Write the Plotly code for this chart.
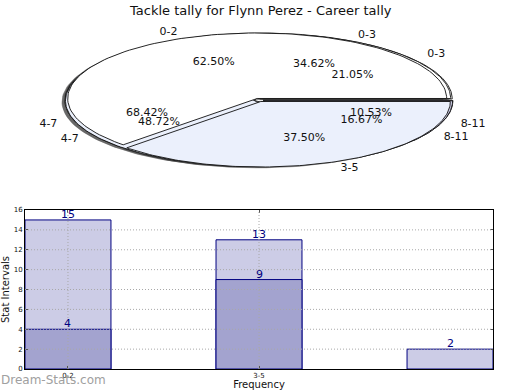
import numpy as np
import plotly.graph_objects as go

title = "Tackle tally for Flynn Perez - Career tally"

pie_a_labels = ["0-2", "3-5"]
pie_a_values = [15, 9]
pie_b_labels = ["0-3", "4-7", "8-11"]
pie_b_values = [27, 38, 13]
pie_c_labels = ["0-3", "4-7", "8-11"]
pie_c_values = [4, 13, 2]

bar_ticks = ["0-2", "3-5", ""]
bar_light = [15, 13, 2]
bar_dark = [4, 9]
y_ticks = [0, 2, 4, 6, 8, 10, 12, 14, 16]

slice_colors = ["#FFFFFF", "#EBF0FC", "#CCCCE6"]
FONT = "DejaVu Sans"

# pie geometry (pixel space of the figure)
CX, CY, RA, RB = 259.0, 100.0, 189.5, 65.5
EXPLODE = 0.025
SHADOW_DX, SHADOW_DY = -3.5, 1.3

fig = go.Figure()


def wedges(values):
    total = float(sum(values))
    start = 0.0
    out = []
    for v in values:
        end = start + v / total * 360.0
        mid = np.radians((start + end) / 2.0)
        ox = CX + EXPLODE * RA * np.cos(mid)
        oy = CY - EXPLODE * RB * np.sin(mid)
        out.append((start, end, mid, ox, oy, v / total))
        start = end
    return out


def wedge_poly(ox, oy, t1, t2, n=120):
    t = np.radians(np.linspace(t1, t2, n))
    xs = np.concatenate([[ox], ox + RA * np.cos(t), [ox]])
    ys = np.concatenate([[oy], oy - RB * np.sin(t), [oy]])
    return xs, ys


def add_shadows(values):
    for (t1, t2, mid, ox, oy, f) in wedges(values):
        xs, ys = wedge_poly(ox + SHADOW_DX, oy + SHADOW_DY, t1, t2)
        fig.add_trace(go.Scatter(x=xs, y=ys, mode="lines", fill="toself",
                                 fillcolor="rgba(20,20,20,0.4)", line=dict(width=0),
                                 xaxis="x2", yaxis="y2", hoverinfo="skip", showlegend=False))


def add_pie(values):
    for i, (t1, t2, mid, ox, oy, f) in enumerate(wedges(values)):
        xs, ys = wedge_poly(ox, oy, t1, t2)
        fig.add_trace(go.Scatter(x=xs, y=ys, mode="lines", fill="toself",
                                 fillcolor=slice_colors[i % len(slice_colors)],
                                 line=dict(color="#111111", width=0.9),
                                 xaxis="x2", yaxis="y2", hoverinfo="skip", showlegend=False))


def add_pie_text(labels, values):
    for lab, (t1, t2, mid, ox, oy, f) in zip(labels, wedges(values)):
        lx = ox + 1.1 * RA * np.cos(mid)
        ly = oy - 1.1 * RB * np.sin(mid)
        pos = "middle right" if np.cos(mid) >= 0 else "middle left"
        fig.add_trace(go.Scatter(x=[lx], y=[ly], mode="text", text=[lab], textposition=pos,
                                 textfont=dict(family=FONT, size=11, color="#111111"),
                                 xaxis="x2", yaxis="y2", hoverinfo="skip", showlegend=False))
        px = ox + 0.6 * RA * np.cos(mid)
        py = oy - 0.6 * RB * np.sin(mid)
        fig.add_trace(go.Scatter(x=[px], y=[py], mode="text", text=["%.2f%%" % (f * 100)],
                                 textposition="middle center",
                                 textfont=dict(family=FONT, size=11, color="#111111"),
                                 xaxis="x2", yaxis="y2", hoverinfo="skip", showlegend=False))


for vals in (pie_c_values, pie_b_values, pie_a_values):
    add_shadows(vals)
for vals in (pie_c_values, pie_b_values, pie_a_values):
    add_pie(vals)
add_pie_text(pie_a_labels, pie_a_values)
add_pie_text(pie_b_labels, pie_b_values)
add_pie_text(pie_c_labels, pie_c_values)

# bar chart
xpos = list(range(len(bar_ticks)))
fig.add_trace(go.Bar(x=xpos[:len(bar_light)], y=bar_light, width=0.45,
                     marker=dict(color="#CCCCE6", line=dict(color="#000080", width=1)),
                     hoverinfo="skip", showlegend=False))
fig.add_trace(go.Bar(x=xpos[:len(bar_dark)], y=bar_dark, width=0.45,
                     marker=dict(color="#A3A3CF", line=dict(color="#000080", width=1)),
                     hoverinfo="skip", showlegend=False))

annotations = []
for series in (bar_light, bar_dark):
    for xi, v in zip(xpos, series):
        annotations.append(dict(x=xi, y=v, xref="x", yref="y", text=str(v), showarrow=False,
                                xanchor="center", yanchor="bottom", yshift=-3,
                                font=dict(family=FONT, size=11, color="#000080")))
annotations.append(dict(text=title, xref="paper", yref="paper", x=0.5, y=1 - 10 / 390,
                        xanchor="center", yanchor="middle", showarrow=False,
                        font=dict(family=FONT, size=13, color="#111111")))
annotations.append(dict(text="Dream-Stats.com", xref="paper", yref="paper", x=-0.002,
                        y=10 / 390, xanchor="left", yanchor="middle", showarrow=False,
                        font=dict(family="DejaVu Sans", size=12, color="#A0A0A0")))

# dotted grid drawn above the bars, as in the reference
tick_x = [x for x, t in zip(xpos, bar_ticks) if t]
tick_t = [t for t in bar_ticks if t]
shapes = []
for yv in y_ticks[1:-1]:
    shapes.append(dict(type="line", xref="x domain", yref="y", x0=0, x1=1, y0=yv, y1=yv,
                       line=dict(color="#A8A8A8", width=1, dash="1px,2px"), layer="above"))
for xv in tick_x:
    shapes.append(dict(type="line", xref="x", yref="y domain", x0=xv, x1=xv, y0=0, y1=1,
                       line=dict(color="#A8A8A8", width=1, dash="1px,2px"), layer="above"))

axis_style = dict(showgrid=False, showline=True, linecolor="black", linewidth=1,
                  mirror="ticks", ticks="inside", ticklen=3, tickcolor="#555555",
                  zeroline=False, automargin=False, tickfont=dict(size=7))

fig.update_layout(
    width=520, height=390,
    margin=dict(l=0, r=0, t=0, b=0),
    paper_bgcolor="white", plot_bgcolor="rgba(0,0,0,0)",
    barmode="overlay",
    font=dict(family=FONT, color="#111111"),
    xaxis=dict(domain=[25 / 520, 493 / 520], range=[-0.225, 2.225],
               tickvals=tick_x, ticktext=tick_t,
               title=dict(text="Frequency", font=dict(size=10), standoff=9), **axis_style),
    yaxis=dict(domain=[21 / 390, 180 / 390], range=[0, 16], tickvals=y_ticks,
               title=dict(text="Stat Intervals", font=dict(size=10), standoff=4), **axis_style),
    xaxis2=dict(domain=[0, 1], range=[0, 520], visible=False, fixedrange=True),
    yaxis2=dict(domain=[0, 1], range=[390, 0], visible=False, fixedrange=True),
    annotations=annotations,
    shapes=shapes,
)

fig.write_html("out.html", config={"displayModeBar": False},
               post_script="document.body.style.margin='0';document.body.style.overflow='hidden';")
